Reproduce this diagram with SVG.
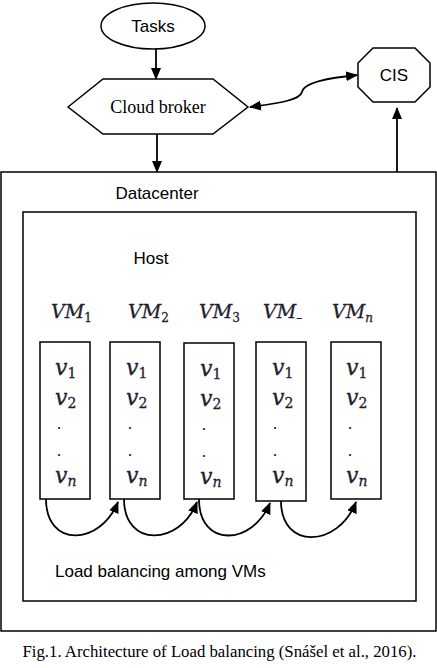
<svg xmlns="http://www.w3.org/2000/svg" width="437" height="668" viewBox="0 0 437 668">
<style>
.shape{fill:#fff;stroke:#000;stroke-width:1.5}
.box{fill:none;stroke:#000;stroke-width:1.5}
.conn{fill:none;stroke:#000;stroke-width:1.8}
.sans{font-family:"Liberation Sans",Arial,sans-serif;font-size:17px;fill:#000}
.serif{font-family:"Liberation Serif","Times New Roman",serif;fill:#000}
.math{font-family:"DejaVu Serif","Liberation Serif",serif;font-style:italic;fill:#1e1e30;stroke:#1e1e30;stroke-width:0.3}
.v{font-size:22px}
.sub{font-style:normal}
</style>
<defs>
<marker id="ah" markerUnits="userSpaceOnUse" markerWidth="12" markerHeight="10" refX="11" refY="5" orient="auto-start-reverse" viewBox="0 0 12 10">
<path d="M0,0 L12,5 L0,10 z" fill="#000"/>
</marker>
</defs>
<rect width="437" height="668" fill="#fff"/>

<g id="datacenter">
<rect class="box" x="1" y="172" width="435" height="459"/>
<text class="sans" x="157" y="199" text-anchor="middle">Datacenter</text>
</g>
<g id="host">
<rect class="box" x="23" y="212" width="393" height="389"/>
<text class="sans" x="151" y="264" text-anchor="middle">Host</text>
</g>

<g id="tasks">
<ellipse class="shape" cx="153" cy="26" rx="52" ry="23"/>
<text class="sans" x="153" y="32" text-anchor="middle">Tasks</text>
</g>
<g id="broker">
<polygon class="shape" points="68,107 103,79 213,79 248,107 213,134 103,134"/>
<text class="serif" x="158" y="113" font-size="18" text-anchor="middle">Cloud broker</text>
</g>
<g id="cis">
<polygon class="shape" points="373,48 415,48 430,63 430,87 415,102 373,102 358,87 358,63"/>
<text class="sans" x="394" y="81" text-anchor="middle">CIS</text>
</g>

<g id="vm1">
<text class="math" x="51" y="318" font-size="19">VM<tspan class="sub" font-size="12" dy="4">1</tspan></text>
<rect class="box" x="40" y="342" width="50" height="157"/>
<text class="math v" x="55" y="375">v<tspan class="sub" font-size="14" dy="3">1</tspan></text>
<text class="math v" x="55" y="405">v<tspan class="sub" font-size="14" dy="3">2</tspan></text>
<text class="serif" x="57" y="429" font-size="16">.</text>
<text class="serif" x="57" y="456" font-size="16">.</text>
<text class="math v" x="55" y="483">v<tspan font-size="14" dy="3">n</tspan></text>
</g>
<g id="vm2">
<text class="math" x="128" y="318" font-size="19">VM<tspan class="sub" font-size="12" dy="4">2</tspan></text>
<rect class="box" x="110" y="342" width="50" height="157"/>
<text class="math v" x="126" y="375">v<tspan class="sub" font-size="14" dy="3">1</tspan></text>
<text class="math v" x="126" y="405">v<tspan class="sub" font-size="14" dy="3">2</tspan></text>
<text class="serif" x="128" y="429" font-size="16">.</text>
<text class="serif" x="128" y="456" font-size="16">.</text>
<text class="math v" x="126" y="483">v<tspan font-size="14" dy="3">n</tspan></text>
</g>
<g id="vm3">
<text class="math" x="199" y="318" font-size="19">VM<tspan class="sub" font-size="12" dy="4">3</tspan></text>
<rect class="box" x="184" y="343" width="50" height="156"/>
<text class="math v" x="200" y="376">v<tspan class="sub" font-size="14" dy="3">1</tspan></text>
<text class="math v" x="200" y="406">v<tspan class="sub" font-size="14" dy="3">2</tspan></text>
<text class="serif" x="202" y="430" font-size="16">.</text>
<text class="serif" x="202" y="457" font-size="16">.</text>
<text class="math v" x="200" y="484">v<tspan font-size="14" dy="3">n</tspan></text>
</g>
<g id="vm4">
<text class="math" x="263" y="318" font-size="19">VM<tspan class="sub" font-size="12" dy="4">–</tspan></text>
<rect class="box" x="256" y="342" width="50" height="159"/>
<text class="math v" x="272" y="375">v<tspan class="sub" font-size="14" dy="3">1</tspan></text>
<text class="math v" x="272" y="405">v<tspan class="sub" font-size="14" dy="3">2</tspan></text>
<text class="serif" x="273" y="429" font-size="16">.</text>
<text class="serif" x="273" y="456" font-size="16">.</text>
<text class="math v" x="272" y="483">v<tspan font-size="14" dy="3">n</tspan></text>
</g>
<g id="vm5">
<text class="math" x="332" y="318" font-size="19">VM<tspan font-size="12" dy="4">n</tspan></text>
<rect class="box" x="331" y="342" width="50" height="157"/>
<text class="math v" x="346" y="375">v<tspan class="sub" font-size="14" dy="3">1</tspan></text>
<text class="math v" x="346" y="405">v<tspan class="sub" font-size="14" dy="3">2</tspan></text>
<text class="serif" x="348" y="429" font-size="16">.</text>
<text class="serif" x="348" y="456" font-size="16">.</text>
<text class="math v" x="346" y="483">v<tspan font-size="14" dy="3">n</tspan></text>
</g>

<g id="connectors">
<path class="conn" d="M156,49 L156,79" marker-end="url(#ah)"/>
<path class="conn" d="M157,134 L157,172" marker-end="url(#ah)"/>
<path class="conn" d="M397,172 L397,108" marker-end="url(#ah)"/>
<path class="conn" d="M250,107 C280,103 300,100 302,92 C304,82 330,78 357,75" marker-start="url(#ah)" marker-end="url(#ah)"/>
<path class="conn" d="M46,499 C46,548 100,546 118,502" marker-end="url(#ah)"/>
<path class="conn" d="M124,499 C124,548 180,546 197,502" marker-end="url(#ah)"/>
<path class="conn" d="M199,499 C199,548 252,546 270,503" marker-end="url(#ah)"/>
<path class="conn" d="M281,501 C281,550 338,548 356,502" marker-end="url(#ah)"/>
</g>

<text class="sans" x="55" y="577" font-size="18.6">Load balancing among VMs</text>
<text class="serif" x="219.5" y="657" font-size="16.75" text-anchor="middle">Fig.1. Architecture of Load balancing (Snášel et al., 2016).</text>
</svg>
